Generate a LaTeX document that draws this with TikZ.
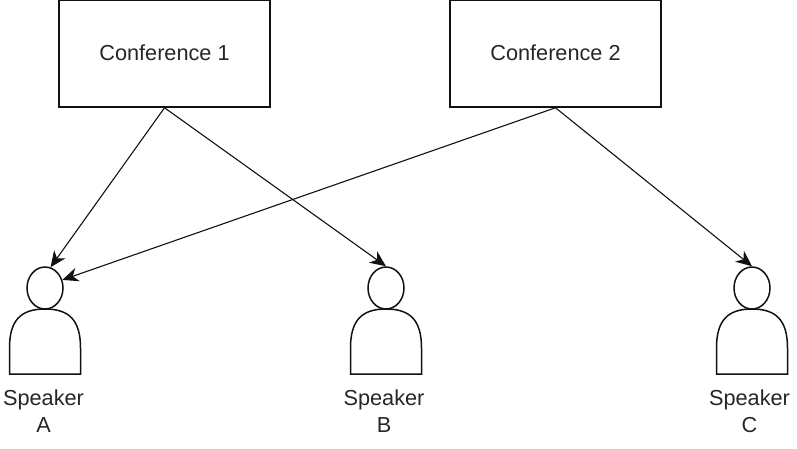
\documentclass[tikz,border=0pt]{standalone}
\usepackage{fontspec}
\setmainfont{Liberation Sans}
\usetikzlibrary{arrows.meta,shapes.geometric}
\definecolor{ink}{HTML}{111111}
\tikzset{
  confbox/.style={draw=ink,line width=1.5pt,minimum width=211pt,minimum height=107pt,inner sep=0pt,font=\fontsize{21.7}{26}\selectfont,text=black!85},
  headshape/.style={draw=ink,ellipse,line width=1.5pt,minimum width=36pt,minimum height=42pt,inner sep=0pt},
  bodyshape/.style={draw=ink,line width=1.5pt,line join=miter},
  lbl/.style={font=\fontsize{21.7}{26.5}\selectfont,text=black!85,align=center,inner sep=0pt},
  conn/.style={draw=ink,line width=1.1pt,-{Stealth[length=16pt,width=14pt,inset=5pt]},shorten >=0pt}
}
\newcommand{\personbody}[1]{%
  \draw[bodyshape] (#1-35.5,374) -- (#1-35.5,348) .. controls (#1-35.5,320) and (#1-24,309) .. (#1,309)
    .. controls (#1+24,309) and (#1+35.5,320) .. (#1+35.5,348) -- (#1+35.5,374) -- cycle;}
\begin{document}
\begin{tikzpicture}[x=1pt,y=-1pt]
\useasboundingbox (0,0) rectangle (797,448);
\node[confbox] (c1) at (164.5,53.5) {\raisebox{1pt}{Conference 1}};
\node[confbox] (c2) at (555.5,53.5) {\raisebox{1pt}{Conference 2}};
\personbody{45}
\personbody{386}
\personbody{752}
\node[headshape] (ha) at (45,288) {};
\node[headshape] (hb) at (386,288) {};
\node[headshape] (hc) at (752,288) {};
\node[lbl] (la) at (43.5,411) {Speaker\\A};
\node[lbl] (lb) at (384,411) {Speaker\\B};
\node[lbl] (lc) at (749.5,411) {Speaker\\C};
\draw[conn] (c1.south) -- (ha.75);
\draw[conn] (c1.south) -- (hb.north);
\draw[conn] (c2.south) -- (ha.25);
\draw[conn] (c2.south) -- (hc.north);
\end{tikzpicture}
\end{document}
